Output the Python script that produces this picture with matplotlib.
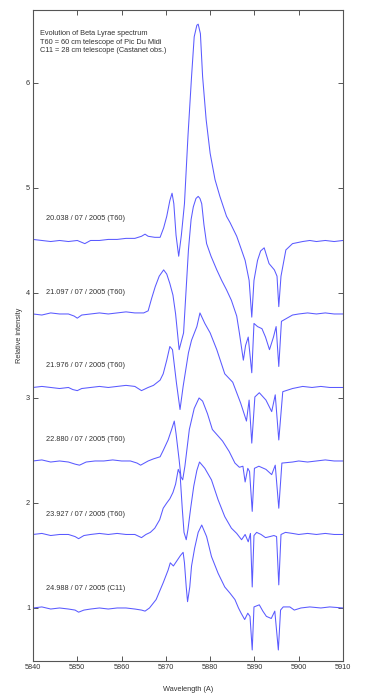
import matplotlib
matplotlib.use("Agg")
import matplotlib.pyplot as plt

# spectra, (wavelength [A], relative intensity)
w1 = [5840, 5842, 5844, 5846, 5848, 5850, 5851.7, 5853, 5855, 5857, 5859, 5861, 5863,
      5864.5, 5865.3, 5866, 5867.5, 5868.7, 5869.5, 5870.2, 5870.9, 5871.4, 5871.8, 5872.3,
      5872.9, 5873.5, 5874.2, 5875.0, 5875.8, 5876.4, 5877.0, 5877.3, 5877.8, 5878.3, 5879.1,
      5880.0, 5881.1, 5882.2, 5883.7, 5884.5, 5886.0, 5887.0, 5887.9, 5888.8, 5889.4, 5889.9,
      5890.7, 5891.4, 5892.2, 5893.3, 5894.5, 5895.1, 5895.5, 5896.0, 5897.1, 5898.6, 5900.9,
      5902.5, 5904, 5906, 5908, 5910]
i1 = [4.51, 4.50, 4.49, 4.50, 4.49, 4.50, 4.47, 4.50, 4.50, 4.51, 4.51, 4.52, 4.52,
      4.54, 4.56, 4.54, 4.53, 4.53, 4.62, 4.73, 4.88, 4.95, 4.85, 4.55,
      4.35, 4.55, 4.85, 5.50, 6.06, 6.44, 6.55, 6.56, 6.47, 6.06, 5.65,
      5.33, 5.08, 4.92, 4.73, 4.67, 4.54, 4.42, 4.31, 4.12, 3.77, 4.12,
      4.31, 4.40, 4.43, 4.28, 4.22, 4.16, 3.87, 4.16, 4.41, 4.47, 4.49,
      4.50, 4.49, 4.50, 4.49, 4.50]

w2 = [5840, 5842, 5844, 5846, 5848, 5849.3, 5850, 5851, 5853, 5855, 5857, 5859, 5861, 5863,
      5865, 5866.0, 5866.8, 5867.6, 5868.5, 5869.5, 5870.2, 5870.9, 5871.6, 5872.2, 5873.0,
      5874.0, 5874.6, 5875.1, 5875.7, 5876.2, 5876.8, 5877.3, 5877.7, 5878.1, 5878.6, 5879.2,
      5880.2, 5881.5, 5882.6, 5883.7, 5884.8, 5886.0, 5886.6, 5887.5, 5888.0, 5888.6, 5889.4,
      5889.9, 5890.7, 5891.7, 5892.5, 5893.4, 5894.3, 5894.9, 5895.5, 5896.1, 5898.6, 5900,
      5902, 5904, 5906, 5908, 5910]
i2 = [3.80, 3.79, 3.81, 3.80, 3.80, 3.78, 3.76, 3.79, 3.80, 3.81, 3.80, 3.81, 3.82, 3.81,
      3.81, 3.83, 3.95, 4.06, 4.16, 4.22, 4.18, 4.09, 3.98, 3.80, 3.46,
      3.62, 4.05, 4.41, 4.70, 4.82, 4.90, 4.92, 4.90, 4.85, 4.65, 4.47,
      4.35, 4.22, 4.12, 4.03, 3.93, 3.78, 3.62, 3.36, 3.50, 3.58, 3.24,
      3.71, 3.68, 3.66, 3.58, 3.46, 3.58, 3.68, 3.30, 3.73, 3.79, 3.80,
      3.81, 3.80, 3.81, 3.80, 3.80]

w3 = [5840, 5842, 5844, 5846, 5848, 5849, 5850, 5851, 5853, 5855, 5857, 5859, 5861, 5863,
      5864.5, 5866, 5867.2, 5868.7, 5869.4, 5870.2, 5870.9, 5871.5, 5872.4, 5873.2, 5873.9,
      5875.1, 5875.8, 5877.0, 5877.7, 5878.8, 5880.0, 5881.5, 5883.3, 5885.1, 5886.9, 5887.9,
      5888.2, 5888.8, 5889.4, 5890.1, 5891.1, 5892.6, 5893.9, 5894.7, 5895.5, 5896.4, 5898.6,
      5900.9, 5903, 5905, 5907, 5910]
i3 = [3.10, 3.11, 3.10, 3.09, 3.10, 3.08, 3.07, 3.09, 3.10, 3.11, 3.10, 3.11, 3.12, 3.11,
      3.07, 3.10, 3.12, 3.17, 3.23, 3.36, 3.49, 3.46, 3.14, 2.89, 3.11,
      3.43, 3.55, 3.68, 3.81, 3.71, 3.62, 3.46, 3.23, 3.15, 2.95, 2.82,
      2.78, 2.98, 2.57, 3.01, 3.05, 2.98, 2.87, 3.03, 2.60, 3.06, 3.09,
      3.11, 3.10, 3.11, 3.10, 3.10]

w4 = [5840, 5842, 5844, 5846, 5848, 5849.5, 5850.5, 5852, 5854, 5856, 5858, 5860, 5862,
      5863.5, 5864.3, 5866, 5867.2, 5868.7, 5869.4, 5870.5, 5871.3, 5871.9, 5872.3, 5873.0,
      5873.4, 5873.8, 5874.3, 5875.3, 5876.4, 5877.5, 5878.3, 5879.4, 5880.5, 5882.8, 5884.3,
      5885.6, 5886.6, 5887.4, 5887.9, 5888.5, 5888.9, 5889.5, 5890.0, 5891.0, 5892.6, 5893.9,
      5894.7, 5895.5, 5896.2, 5898.6, 5900, 5902, 5904, 5906, 5908, 5910]
i4 = [2.40, 2.41, 2.39, 2.40, 2.39, 2.37, 2.36, 2.39, 2.40, 2.40, 2.41, 2.40, 2.40,
      2.38, 2.36, 2.40, 2.42, 2.44, 2.50, 2.60, 2.70, 2.78, 2.66, 2.41,
      2.25, 2.22, 2.35, 2.70, 2.90, 3.00, 2.97, 2.85, 2.70, 2.59, 2.49,
      2.38, 2.34, 2.35, 2.20, 2.33, 2.30, 1.92, 2.33, 2.35, 2.32, 2.27,
      2.36, 1.95, 2.38, 2.39, 2.40, 2.39, 2.40, 2.41, 2.40, 2.40]

w5 = [5840, 5842, 5844, 5846, 5848, 5849.5, 5850.3, 5851.5, 5853, 5855, 5857, 5859, 5861,
      5863, 5864.5, 5865.5, 5866.5, 5867.5, 5868.6, 5869.4, 5870.2, 5870.9, 5871.6, 5872.2,
      5872.8, 5873.2, 5873.7, 5874.1, 5874.6, 5875.0, 5875.6, 5876.3, 5877.0, 5877.6, 5878.2,
      5878.8, 5880.3, 5881.8, 5883.3, 5884.8, 5886.0, 5887.1, 5887.9, 5888.6, 5889.1, 5889.5,
      5889.9, 5890.5, 5891.5, 5892.5, 5893.5, 5894.4, 5895.0, 5895.5, 5896.0, 5897, 5898.6,
      5900, 5902, 5904, 5906, 5908, 5910]
i5 = [1.70, 1.71, 1.69, 1.70, 1.70, 1.68, 1.66, 1.69, 1.70, 1.71, 1.70, 1.71, 1.70,
      1.70, 1.67, 1.70, 1.72, 1.76, 1.84, 1.95, 2.00, 2.04, 2.10, 2.18,
      2.32, 2.28, 1.95, 1.72, 1.65, 1.75, 1.95, 2.16, 2.31, 2.39, 2.36,
      2.33, 2.22, 2.03, 1.87, 1.76, 1.71, 1.65, 1.70, 1.63, 1.71, 1.20,
      1.69, 1.72, 1.70, 1.67, 1.68, 1.69, 1.68, 1.22, 1.70, 1.72, 1.71,
      1.70, 1.71, 1.70, 1.71, 1.70, 1.70]

w6 = [5840, 5842, 5844, 5846, 5848, 5849.5, 5850.3, 5851.5, 5853, 5855, 5857, 5859, 5861,
      5863, 5864.5, 5865.3, 5866.3, 5867.8, 5869.4, 5870.5, 5871.0, 5871.7, 5872.5, 5873.3,
      5873.9, 5874.2, 5874.6, 5874.9, 5875.4, 5875.8, 5876.5, 5877.3, 5878.1, 5879.2, 5880.3,
      5881.8, 5883.3, 5884.5, 5885.6, 5886.4, 5887.0, 5887.8, 5888.5, 5889.0, 5889.5, 5889.9,
      5891.1, 5891.9, 5892.7, 5893.8, 5894.6, 5895.4, 5895.9, 5896.5, 5898, 5899, 5900.5,
      5902.5, 5905, 5907, 5910]
i6 = [1.00, 1.01, 0.99, 1.00, 0.99, 0.98, 0.96, 0.98, 0.99, 1.00, 0.99, 1.00, 1.00,
      0.99, 0.98, 0.97, 1.00, 1.08, 1.24, 1.36, 1.43, 1.40, 1.45, 1.50,
      1.53, 1.43, 1.20, 1.06, 1.20, 1.40, 1.57, 1.72, 1.79, 1.68, 1.49,
      1.33, 1.20, 1.14, 1.08, 1.00, 0.95, 0.89, 0.95, 0.92, 0.60, 1.01,
      1.03, 0.97, 0.92, 0.90, 0.97, 0.60, 0.98, 1.01, 1.01, 0.98, 1.00,
      1.01, 1.00, 1.01, 1.00]

labels = ["20.038 / 07 / 2005 (T60)", "21.097 / 07 / 2005 (T60)", "21.976 / 07 / 2005 (T60)",
          "22.880 / 07 / 2005 (T60)", "23.927 / 07 / 2005 (T60)", "24.988 / 07 / 2005 (C11)"]
label_y = [4.705, 4.006, 3.305, 2.607, 1.892, 1.187]
title = ("Evolution of Beta Lyrae spectrum\n"
         "T60 = 60 cm telescope of Pic Du Midi\n"
         "C11 = 28 cm telescope (Castanet obs.)")
xticks = [5840, 5850, 5860, 5870, 5880, 5890, 5900, 5910]
yticks = [1, 2, 3, 4, 5, 6]


def main():
    plt.rcParams["font.family"] = ["Liberation Sans", "DejaVu Sans"]
    fs = 5.3
    ink = "#333333"
    blue = "#5a5aff"

    fig = plt.figure(figsize=(3.72, 6.97), dpi=100)
    ax = fig.add_axes([33 / 372, 1 - 661 / 697, 310 / 372, 651 / 697])

    for w, i in zip([w1, w2, w3, w4, w5, w6], [i1, i2, i3, i4, i5, i6]):
        ax.plot(w, i, color=blue, lw=0.75)

    for lab, y in zip(labels, label_y):
        ax.text(5842.9, y, lab, fontsize=fs, color=ink, va="center", ha="left")
    ax.text(5841.6, 6.50, title, fontsize=fs, color=ink, va="top", ha="left", linespacing=1.25)

    ax.set_xlim(5840, 5910)
    ax.set_ylim(0.495, 6.695)
    ax.set_xticks(xticks)
    ax.set_yticks(yticks)
    ax.tick_params(direction="in", length=3.8, width=0.7, colors="#555555",
                   labelcolor=ink, labelsize=fs, top=True, right=True, pad=2)
    for s in ax.spines.values():
        s.set_color("#555555")
        s.set_linewidth(0.8)

    ax.set_xlabel("Wavelength (A)", fontsize=fs, color=ink)
    ax.set_ylabel("Relative intensity", fontsize=fs, color=ink)
    ax.xaxis.set_label_coords(0.5, -0.039)
    ax.yaxis.set_label_coords(-0.032, 0.5)

    fig.savefig("out.png", dpi=100)


if __name__ == "__main__":
    main()
